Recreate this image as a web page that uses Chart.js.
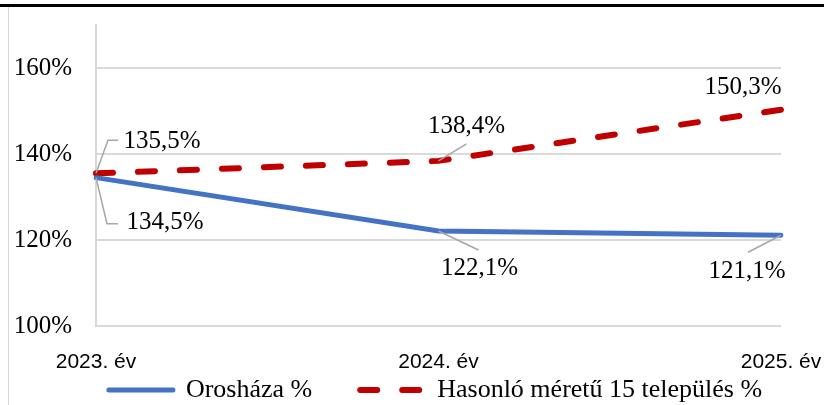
<!DOCTYPE html>
<html>
<head>
<meta charset="utf-8">
<script src="https://cdn.jsdelivr.net/npm/chart.js@4"></script>
<style>
    html, body { margin: 0; padding: 0; background: #fff; }
    #wrap { position: relative; width: 824px; height: 405px; overflow: hidden; }
    #chart { position: absolute; left: 0; top: 0; }
    #topRule { position: absolute; left: 0; top: 4px; width: 824px; height: 3px; background: #000; }
    #frame { position: absolute; left: 8px; top: 7px; width: 1px; height: 398px; background: #d9d9d9; }
</style>
</head>
<body>
<div id="wrap">
    <canvas id="chart" width="824" height="405"></canvas>
    <div id="topRule"></div>
    <div id="frame"></div>
</div>
<script>
// Chart data
const years = ['2023. év', '2024. év', '2025. év'];
const oroshaza = [134.5, 122.1, 121.1];
const hasonlo = [135.5, 138.4, 150.3];
const seriesNames = ['Orosháza %', 'Hasonló méretű 15 település %'];
const yTicks = [100, 120, 140, 160];

const SERIF = '"Liberation Serif", "Times New Roman", serif';
const SANS = '"Liberation Sans", Arial, sans-serif';

// Format 134.5 -> "134,5%"
function pct(v) {
    return v.toFixed(1).replace('.', ',') + '%';
}

// Where each value label sits, relative to its point (text centre + leader line)
const labelSpots = [
    [
        { dx: 69, dy: 45, leader: [[11, 46], [22, 46]] },
        { dx: 41, dy: 37, leader: [[40, 19]] },
        { dx: -34, dy: 36, leader: [[-33, 17]] }
    ],
    [
        { dx: 66, dy: -32, leader: [[12, -33], [22, -33]] },
        { dx: 28, dy: -34, leader: [[28, -17]] },
        { dx: -38, dy: -22, leader: [] }
    ]
];

// Draw value labels with grey leader lines
const valueLabels = {
    id: 'valueLabels',
    afterDatasetsDraw(chart) {
        const ctx = chart.ctx;
        ctx.save();
        chart.data.datasets.forEach((ds, di) => {
            const meta = chart.getDatasetMeta(di);
            meta.data.forEach((pt, i) => {
                const spot = labelSpots[di][i];
                if (spot.leader.length) {
                    ctx.beginPath();
                    ctx.strokeStyle = '#a6a6a6';
                    ctx.lineWidth = 1.5;
                    ctx.setLineDash([]);
                    ctx.moveTo(pt.x, pt.y);
                    spot.leader.forEach(p => ctx.lineTo(pt.x + p[0], pt.y + p[1]));
                    ctx.stroke();
                }
                ctx.fillStyle = '#000';
                ctx.font = '25px ' + SERIF;
                ctx.textAlign = 'center';
                ctx.textBaseline = 'middle';
                ctx.fillText(pct(ds.data[i]), pt.x + spot.dx, pt.y + spot.dy);
            });
        });
        ctx.restore();
    }
};

// The legend keeps a wide gap between its items but only a slim box in the layout:
// pull its box up and right so the row sits under the axis labels
const legendShift = {
    id: 'legendShift',
    afterLayout(chart) {
        const lg = chart.legend;
        if (!lg) return;
        lg.top -= 47;
        lg.left += 47;
    }
};

const ctx = document.getElementById('chart').getContext('2d');
new Chart(ctx, {
    type: 'line',
    data: {
        labels: years,
        datasets: [
            {
                label: seriesNames[0],
                data: oroshaza,
                borderColor: '#4472c4',
                backgroundColor: '#4472c4',
                borderWidth: 5,
                borderCapStyle: 'round',
                pointRadius: 0,
                tension: 0
            },
            {
                label: seriesNames[1],
                data: hasonlo,
                borderColor: '#c00000',
                backgroundColor: '#c00000',
                borderWidth: 6,
                borderDash: [17, 25],
                borderCapStyle: 'round',
                pointRadius: 0,
                tension: 0
            }
        ]
    },
    options: {
        responsive: false,
        animation: false,
        layout: { padding: { top: 25, left: 0, right: 0, bottom: -8 } },
        plugins: {
            tooltip: { enabled: false },
            legend: {
                position: 'bottom',
                maxHeight: 37,
                labels: {
                    usePointStyle: true,
                    pointStyleWidth: 64,
                    padding: 48,
                    color: '#000',
                    font: { family: SERIF, size: 26 },
                    generateLabels(chart) {
                        return chart.data.datasets.map((ds, i) => ({
                            text: ds.label,
                            datasetIndex: i,
                            pointStyle: 'line',
                            strokeStyle: ds.borderColor,
                            fillStyle: ds.borderColor,
                            lineWidth: ds.borderWidth,
                            lineDash: ds.borderDash || [],
                            lineCap: 'round',
                            fontColor: '#000'
                        }));
                    }
                }
            }
        },
        scales: {
            x: {
                offset: false,
                grid: { display: false },
                border: { display: false },
                afterFit(scale) {
                    scale.height = 50;
                    scale.paddingLeft = 0;
                    scale.paddingRight = 43;
                },
                ticks: {
                    padding: 16,
                    maxRotation: 0,
                    autoSkip: false,
                    color: '#000',
                    font: { family: SANS, size: 21 }
                }
            },
            y: {
                min: 100,
                max: 170,
                afterBuildTicks(scale) {
                    scale.ticks = yTicks.map(v => ({ value: v }));
                },
                afterFit(scale) {
                    scale.width = 96;
                    scale.paddingTop = 0;
                    scale.paddingBottom = 0;
                },
                grid: { color: '#d9d9d9', lineWidth: 2, drawTicks: false },
                border: { display: true, color: '#d9d9d9', width: 2 },
                ticks: {
                    padding: 24,
                    color: '#000',
                    font: { family: SERIF, size: 25 },
                    callback: v => v + '%'
                }
            }
        }
    },
    plugins: [valueLabels, legendShift]
});
</script>
</body>
</html>
